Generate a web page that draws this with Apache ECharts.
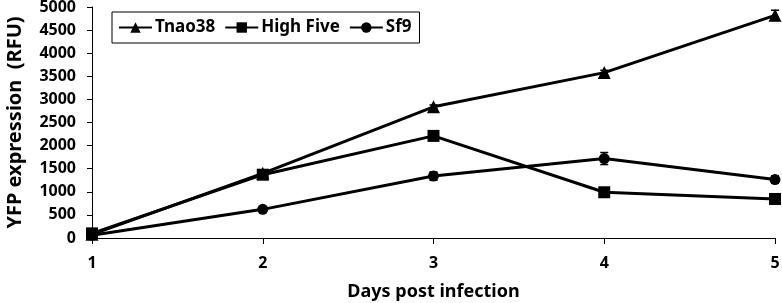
<!DOCTYPE html>
<html>
<head>
<meta charset="utf-8">
<script src="https://cdn.jsdelivr.net/npm/echarts@6/dist/echarts.min.js"></script>
<style>
html, body { margin: 0; padding: 0; background: #fff; }
#chart { width: 782px; height: 303px; }
</style>
</head>
<body>
<div id="chart"></div>
<script>
var days = ['1', '2', '3', '4', '5'];
var tnao38 = [80, 1400, 2840, 3580, 4820];
var highFive = [100, 1370, 2210, 990, 845];
var sf9 = [60, 620, 1340, 1720, 1265];
// rough error bar sizes
var tnao38Err = [0, 40, 40, 50, 110];
var highFiveErr = [0, 40, 50, 40, 40];
var sf9Err = [0, 30, 90, 130, 80];

var myChart = echarts.init(document.getElementById('chart'));
var font = 'Noto Sans';

function errData(vals, errs) {
    return vals.map(function (v, i) { return [i, v - errs[i], v + errs[i]]; });
}

function errSeries(vals, errs) {
    return {
        type: 'custom',
        silent: true,
        z: 1,
        renderItem: function (params, api) {
            var lo = api.coord([api.value(0), api.value(1)]);
            var hi = api.coord([api.value(0), api.value(2)]);
            var w = 4;
            var st = { stroke: '#000', lineWidth: 1.5 };
            return {
                type: 'group',
                children: [
                    { type: 'line', shape: { x1: lo[0], y1: lo[1], x2: hi[0], y2: hi[1] }, style: st },
                    { type: 'line', shape: { x1: lo[0] - w, y1: lo[1], x2: lo[0] + w, y2: lo[1] }, style: st },
                    { type: 'line', shape: { x1: hi[0] - w, y1: hi[1], x2: hi[0] + w, y2: hi[1] }, style: st }
                ]
            };
        },
        data: errData(vals, errs)
    };
}

function lineSeries(name, vals, symbol, size) {
    return {
        name: name,
        type: 'line',
        data: vals,
        symbol: symbol,
        symbolSize: size,
        z: 3,
        lineStyle: { color: '#000', width: 3 },
        itemStyle: { color: '#000' }
    };
}

var option = {
    animation: false,
    textStyle: { fontFamily: font },
    grid: { left: 92, right: 7, top: 7, bottom: 65, outerBoundsMode: 'none' },
    legend: {
        left: 112,
        top: 12,
        padding: [7, 8, 7, 6],
        itemGap: 9,
        itemWidth: 33,
        itemHeight: 13,
        borderColor: '#000',
        borderWidth: 1,
        textStyle: { fontFamily: font, fontSize: 17, fontWeight: 'bold', color: '#000', padding: [0, 0, 0, -2] },
        data: ['Tnao38', 'High Five', 'Sf9']
    },
    xAxis: {
        type: 'category',
        data: days,
        boundaryGap: false,
        name: 'Days post infection',
        nameLocation: 'middle',
        nameGap: 45,
        nameTextStyle: { fontFamily: font, fontSize: 18, fontWeight: 'bold', color: '#000' },
        axisLine: { lineStyle: { color: '#000', width: 1 } },
        axisTick: { alignWithLabel: true, length: 6, lineStyle: { color: '#000' } },
        axisLabel: { fontFamily: font, fontSize: 16, fontWeight: 'bold', color: '#000', margin: 17 }
    },
    yAxis: {
        type: 'value',
        min: 0,
        max: 5000,
        interval: 500,
        name: 'YFP expression  (RFU)',
        nameLocation: 'middle',
        nameGap: 67,
        nameTextStyle: { fontFamily: font, fontSize: 20, fontWeight: 'bold', color: '#000' },
        axisLine: { show: true, lineStyle: { color: '#000', width: 1 } },
        axisTick: { show: true, length: 5, lineStyle: { color: '#000' } },
        splitLine: { show: false },
        axisLabel: {
            fontFamily: font, fontSize: 16, fontWeight: 'bold', color: '#000', margin: 16,
            formatter: function (v) { return String(v); }
        }
    },
    series: [
        lineSeries('Tnao38', tnao38, 'triangle', 13),
        lineSeries('High Five', highFive, 'rect', 12),
        lineSeries('Sf9', sf9, 'circle', 11),
        errSeries(tnao38, tnao38Err),
        errSeries(highFive, highFiveErr),
        errSeries(sf9, sf9Err)
    ]
};

option && myChart.setOption(option);
</script>
</body>
</html>
